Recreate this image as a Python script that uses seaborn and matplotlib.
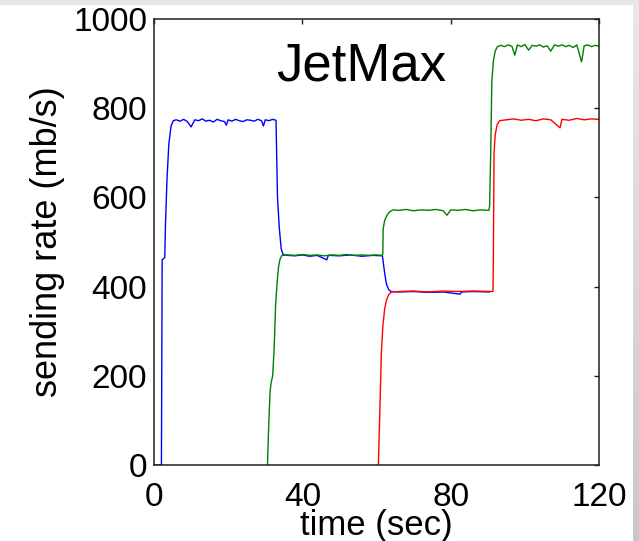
import matplotlib
matplotlib.use("Agg")
import matplotlib.pyplot as plt
import numpy as np
import seaborn as sns

# Flow 1 (blue): time in seconds, sending rate in mb/s
blue_t = [0, 2.0, 2.2, 2.5, 2.9, 3.1, 3.5, 4.0, 4.6, 5.2,
          6, 7, 8, 9, 10, 11, 12, 13, 14, 15, 16, 17, 18, 19, 19.5, 20, 21, 22, 23, 24,
          25, 26, 27, 28, 29, 29.5, 30, 31, 32, 32.9,
          33.3, 33.8, 34.3, 34.8,
          36, 38, 40, 42, 44, 46.6, 47, 50, 53, 56, 59, 61.6,
          62.2, 62.7, 63.3, 63.9,
          66, 70, 74, 78, 82.5, 83, 86, 90.5]
blue_v = [0, 0, 460, 462, 465, 540, 640, 720, 760, 772,
          774, 771, 775, 770, 758, 774, 772, 776, 771, 773, 769, 775, 772, 770, 762, 774, 771, 775, 772, 770,
          774, 773, 771, 775, 772, 760, 774, 772, 775, 773,
          600, 530, 485, 472,
          470, 469, 471, 468, 470, 460, 470, 469, 471, 468, 470, 469,
          430, 405, 393, 389,
          388, 389, 387, 388, 383, 388, 389, 388]

# Flow 2 (green)
green_t = [30.6, 30.9, 31.3, 31.6, 32.0, 32.4, 32.8, 33.2, 33.6, 34.0, 34.5,
           36, 38, 40, 42, 44, 46, 48, 50, 52, 54, 56, 58, 60, 61.6,
           61.7, 61.8, 62.2, 62.8, 63.6, 64.5,
           66, 68, 70, 72, 74, 76, 78, 79, 80, 82, 84, 86, 88, 90.3,
           90.5, 90.8, 91.1, 91.5, 92.0, 92.6,
           93.5, 94.5, 95.5, 96.5, 97.3, 98, 99, 100, 101, 102, 103, 104, 105, 106, 107, 108,
           109, 110, 111, 112, 113, 114, 115.3, 116, 117, 118, 119, 120]
green_v = [0, 80, 165, 185, 200, 260, 360, 410, 445, 462, 470,
           471, 470, 472, 470, 471, 469, 471, 470, 472, 470, 471, 470, 471, 470,
           475, 530, 548, 560, 568, 572,
           571, 573, 570, 572, 571, 573, 570, 560, 572, 571, 573, 570, 572, 571,
           580, 700, 860, 905, 928, 938,
           941, 938, 942, 939, 919, 942, 938, 943, 930, 941, 939, 942, 937, 940, 928, 942,
           939, 942, 938, 941, 936, 942, 904, 940, 942, 938, 941, 939]

# Flow 3 (red)
red_t = [60.5, 60.9, 61.3, 61.7, 62.2, 62.7, 63.3, 64.0,
         66, 70, 74, 78, 82, 86, 91.4,
         91.5, 91.7, 92.0, 92.5, 93.2,
         95, 97, 99, 101, 103, 105, 107, 109.5, 110, 112, 114, 116, 118, 120]
red_v = [0, 120, 250, 310, 350, 370, 382, 388,
         389, 390, 388, 390, 389, 390, 389,
         450, 700, 740, 762, 772,
         774, 776, 773, 775, 772, 776, 774, 756, 775, 773, 777, 774, 776, 775]

x_ticks = [0, 40, 80, 120]
y_ticks = [0, 200, 400, 600, 800, 1000]

sns.set_theme(style="white")
plt.rcParams["font.family"] = ["Liberation Sans", "DejaVu Sans"]

fig = plt.figure(figsize=(6.39, 5.41), dpi=100)
fig.patch.set_facecolor("white")

# light grey frame strips along the top and right edges
top_strip = plt.Rectangle((0, 1 - 4 / 541), 1, 4 / 541, transform=fig.transFigure,
                          color="#e6e6e6", zorder=0)
fig.patches.append(top_strip)
strip_ax = fig.add_axes([633 / 639, 0, 6 / 639, 1 - 4 / 541])
grad = np.linspace(0, 1, 256).reshape(-1, 1)
strip_ax.imshow(grad, aspect="auto", cmap=matplotlib.colors.LinearSegmentedColormap.from_list(
    "edge", ["#e8e8e8", "#c8c8c8"]), extent=[0, 1, 0, 1], origin="upper")
strip_ax.axis("off")

ax = fig.add_axes([154 / 639, 1 - 465 / 541, 445 / 639, 446 / 541])
ax.set_facecolor("white")

lw = 1.0
sns.lineplot(x=blue_t, y=blue_v, ax=ax, color="#0000ff", lw=lw, estimator=None, sort=False)
sns.lineplot(x=green_t, y=green_v, ax=ax, color="#008000", lw=lw, estimator=None, sort=False)
sns.lineplot(x=red_t, y=red_v, ax=ax, color="#ff0000", lw=lw, estimator=None, sort=False)

ax.set_xlim(0, 120)
ax.set_ylim(0, 1000)
ax.set_xticks(x_ticks)
ax.set_yticks(y_ticks)
ax.set_xticklabels([str(v) for v in x_ticks])
ax.set_yticklabels([str(v) for v in y_ticks])

for s in ax.spines.values():
    s.set_visible(True)
    s.set_color("#202020")
    s.set_linewidth(1.1)

ax.tick_params(direction="in", length=3.6, width=1.0, color="#202020",
               top=True, right=True, labelsize=24, labelcolor="black")
ax.tick_params(axis="x", pad=12)
ax.tick_params(axis="y", pad=5)

ax.set_xlabel("time (sec)", fontsize=25, labelpad=-3, color="black")
ax.set_ylabel("sending rate (mb/s)", fontsize=26, labelpad=6, color="black")

ax.text(55.8, 893, "JetMax", fontsize=38, ha="center", va="center", color="black")

fig.savefig("out.png", dpi=100, facecolor="white")
